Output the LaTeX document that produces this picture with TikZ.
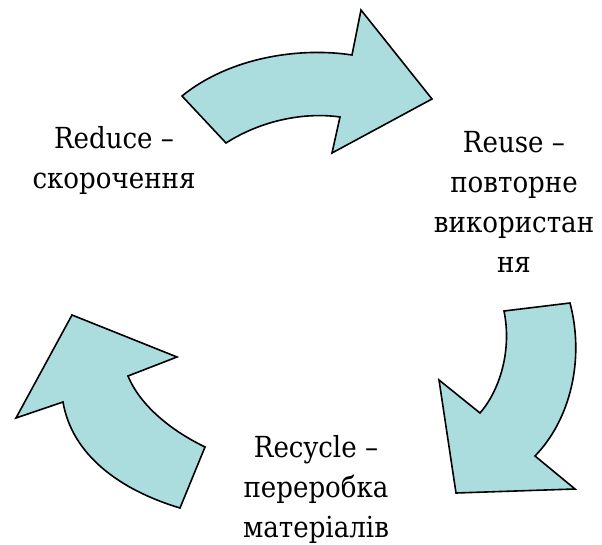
\documentclass[tikz,border=0pt]{standalone}
\usepackage{fontspec}
\IfFontExistsTF{DejaVu Serif Condensed}
   {\setmainfont{DejaVu Serif Condensed}\newcommand\txtsize{\fontsize{29}{40}\selectfont}}
   {\setmainfont{DejaVu Serif}\newcommand\txtsize{\fontsize{27}{40}\selectfont}}
\definecolor{arrowfill}{RGB}{172,221,222}

\begin{document}
\begin{tikzpicture}[x=1pt,y=-1pt,
   txt/.style={align=center,font=\txtsize,inner sep=0pt},
   blockarrow/.style={draw=black,line width=1.6pt,fill=arrowfill,line join=miter}]
   \useasboundingbox (0,0) rectangle (602,545);
   % top arrow: reduce -> reuse
   \draw[blockarrow] (182,96) -- (226,143)
      .. controls (262,120) and (305,112) .. (340,117)
      -- (332,153) -- (432,99) -- (361,10) -- (352,55)
      .. controls (300,47) and (230,57) .. (182,96) -- cycle;
   % right arrow: reuse -> recycle
   \draw[blockarrow] (504,311) -- (570,303)
      .. controls (585,360) and (570,420) .. (535,456)
      -- (575,489) -- (456,493) -- (439,380) -- (480,413)
      .. controls (500,390) and (512,350) .. (504,311) -- cycle;
   % left arrow: recycle -> reduce
   \draw[blockarrow] (180,508) -- (205,447)
      .. controls (170,430) and (140,405) .. (128,376)
      -- (177,357) -- (72,315) -- (16,418) -- (63,402)
      .. controls (72,455) and (120,490) .. (180,508) -- cycle;
   \node[txt] (reduce) at (114,161) {Reduce –\\скорочення};
   \node[txt] (reuse) at (514,202) {Reuse –\\повторне\\використан\\ня};
   \node[txt] (recycle) at (316,489) {Recycle –\\переробка\\матеріалів};
\end{tikzpicture}
\end{document}
